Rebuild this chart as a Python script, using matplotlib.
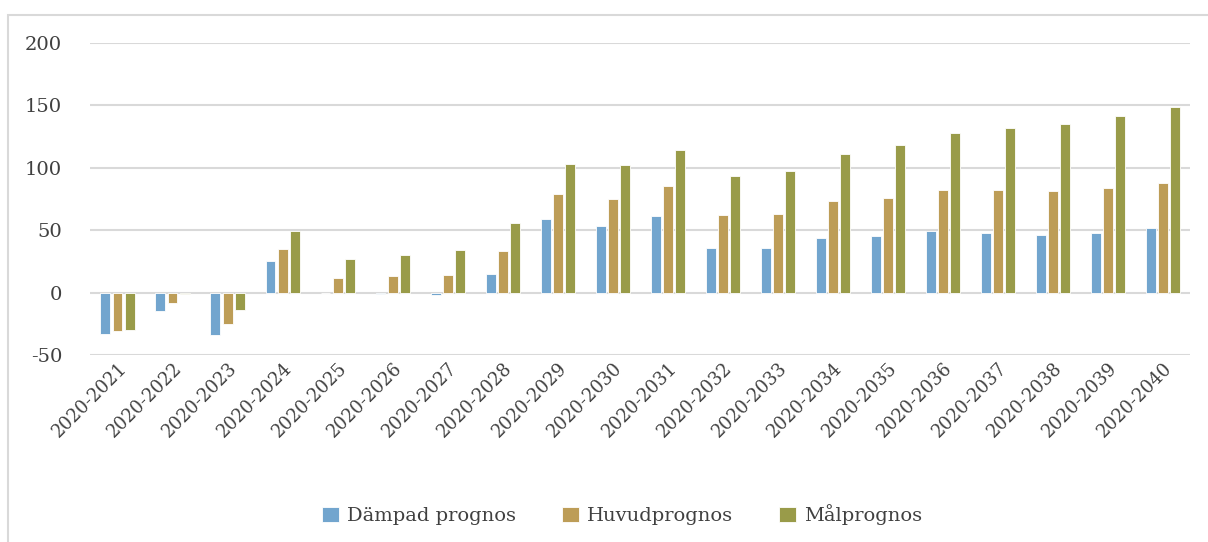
import matplotlib.pyplot as plt
import numpy as np
from matplotlib.patches import Rectangle

periods = ['2020-%d' % y for y in range(2021, 2041)]
dampad = [-33, -15, -34, 25, 0, -1, -2, 15, 59, 53, 61, 36, 36, 44, 45, 49, 48, 46, 48, 52]
huvud = [-31, -8, -25, 35, 12, 13, 14, 33, 79, 75, 85, 62, 63, 73, 76, 82, 82, 81, 84, 88]
mal = [-30, -1, -14, 49, 27, 30, 34, 56, 103, 102, 114, 93, 97, 111, 118, 128, 132, 135, 141, 149]

series = [('Dämpad prognos', dampad, '#72A5CE'),
          ('Huvudprognos', huvud, '#BD9D57'),
          ('Målprognos', mal, '#999B49')]

plt.rcParams['font.family'] = ['DejaVu Serif']
plt.rcParams['axes.unicode_minus'] = False

fig = plt.figure(figsize=(12.08, 5.42), dpi=100)
ax = fig.add_axes([0.0745, 0.345, 0.911, 0.576])

x = np.arange(len(periods))
w = 0.18
step = 0.22
for i, (name, vals, col) in enumerate(series):
    ax.bar(x + (i - 1) * step, vals, width=w, color=col, label=name,
           edgecolor='white', linewidth=0.6, zorder=3)

ax.set_ylim(-50, 200)
ax.set_yticks(range(-50, 201, 50))
ax.set_xlim(-0.5, len(periods) - 0.5)
ax.set_xticks(x)
ax.set_xticklabels(periods, rotation=45, ha='right', rotation_mode='anchor',
                   fontsize=13, color='#404040')
ax.tick_params(axis='y', labelsize=14, labelcolor='#404040', length=0, pad=20)
ax.tick_params(axis='x', length=0, pad=3)
ax.grid(axis='y', color='#D9D9D9', linewidth=1.5, zorder=0)
for s in ax.spines.values():
    s.set_visible(False)

fig.add_artist(Rectangle((8 / 1208, -0.1), 1.2, (542 - 15) / 542 + 0.1,
                         transform=fig.transFigure, fill=False,
                         edgecolor='#D9D9D9', linewidth=1.5))

fig.legend(loc='center', bbox_to_anchor=(0.515, 1 - 515 / 542), ncol=3,
           frameon=False, fontsize=14, handlelength=0.85, handleheight=0.85,
           handletextpad=0.4, columnspacing=2.4, labelcolor='#404040')

fig.savefig('out.png', dpi=100)
